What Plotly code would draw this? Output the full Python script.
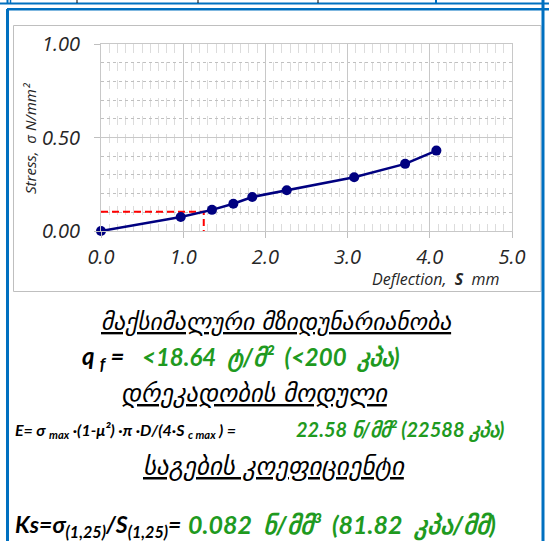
import plotly.graph_objects as go

# ---- data ----
deflection = [0.0, 0.97, 1.35, 1.61, 1.84, 2.26, 3.08, 3.70, 4.08]
stress = [0.0, 0.075, 0.113, 0.146, 0.182, 0.218, 0.287, 0.359, 0.430]
ref_s = 1.25
ref_sigma = 0.1025
x_ticks = [0, 1, 2, 3, 4, 5]
y_ticks = [0.0, 0.5, 1.0]

W, H = 549, 541
L, R, T, B = 101, 512, 44, 231

def px(x):
    return (x - L) / (R - L)

def py(y):
    return (B - y) / (B - T)

BLUE = "#0070C0"
GREEN = "#1f9a1f"
LATIN = "Lato, 'Open Sans', sans-serif"
GEO = "'DejaVu Sans', sans-serif"

fig = go.Figure()
fig.add_trace(go.Scatter(
    x=[0, ref_s, ref_s], y=[ref_sigma, ref_sigma, 0],
    mode="lines", line=dict(color="#ff0000", width=2, dash="7px,4px"),
    hoverinfo="skip", showlegend=False))
fig.add_trace(go.Scatter(
    x=deflection, y=stress, mode="lines+markers",
    line=dict(color="#000080", width=2.5),
    marker=dict(color="#000080", size=10),
    cliponaxis=False, showlegend=False))

axis_common = dict(
    showline=True, mirror=True, linecolor="#c8c8c8", linewidth=1,
    showgrid=True, gridcolor="#c8c8c8", gridwidth=1, zeroline=False,
    ticks="outside", ticklen=6, tickcolor="#bfbfbf",
    tickfont=dict(family="'Open Sans', sans-serif", size=20, color="#262626", style="italic"),
)
fig.update_xaxes(range=[0, 5], tickvals=x_ticks, tickformat=".1f",
                 ticklabelstandoff=2,
                 minor=dict(dtick=0.1, showgrid=True, gridcolor="#dcdcdc", griddash="dash", ticks=""),
                 **axis_common)
fig.update_yaxes(range=[0, 1], tickvals=y_ticks, tickformat=".2f",
                 ticklabelstandoff=10,
                 minor=dict(dtick=0.1, showgrid=True, gridcolor="#c0c0c0", griddash="dot", ticks=""),
                 **axis_common)

shapes = []
def seg(x0, y0, x1, y1, color, width):
    shapes.append(dict(type="line", xref="paper", yref="paper",
                       x0=px(x0), y0=py(y0), x1=px(x1), y1=py(y1),
                       line=dict(color=color, width=width)))

# chart area border
shapes.append(dict(type="rect", xref="paper", yref="paper",
                   x0=px(13.5), y0=py(25.5), x1=px(541), y1=py(291.5),
                   line=dict(color="#bfbfbf", width=1), layer="below"))
# blue cell borders
seg(0, 3.5, 549, 3.5, BLUE, 2)
seg(7, 9.2, 549, 9.2, BLUE, 2.5)
seg(7.5, 9, 7.5, 541, BLUE, 3)
seg(543, 0, 543, 541, BLUE, 3)
seg(7.5, 0, 7.5, 3.5, BLUE, 2)
seg(10.5, 0, 10.5, 3.5, BLUE, 1.5)
seg(436, 0, 436, 3.5, BLUE, 2)
for xb in [77, 198, 318]:
    seg(xb, 0, xb, 3, "#000000", 1)

ann = []
def text(x, y, s, size, color="#000000", family=LATIN, anchor="center"):
    ann.append(dict(xref="paper", yref="paper", x=px(x), y=py(y), text=s,
                    showarrow=False, xanchor=anchor, yanchor="middle",
                    font=dict(family=family, size=size, color=color)))

text(30, 139, "<i>Stress,  σ N/mm²</i>", 15, "#262626", "'Open Sans', sans-serif")
ann[-1]["textangle"] = -90
text(435, 279, "<i>Deflection,  <b>S</b>  mm</i>", 16, "#262626", "'Open Sans', sans-serif")

text(276, 322, "<i><u>მაქსიმალური მზიდუნარიანობა</u></i>", 23.5, family=GEO)
text(80, 357, "<b><i>q <sub>f</sub> =</i></b>", 24, anchor="left")
text(140, 357, "<b><i>&lt;18.64  ტ/მ²  (&lt;200  კპა)</i></b>", 24, GREEN, anchor="left")
text(254, 393, "<i><u>დრეკადობის მოდული</u></i>", 24.5, family=GEO)
text(13, 430, "<b><i>E= σ <sub>max</sub> ·(1-μ²) ·π ·D/(4·S <sub>c max</sub> ) =</i></b>", 16, anchor="left")
text(294, 430, "<b><i>22.58 ნ/მმ² (22588 კპა)</i></b>", 20, GREEN, anchor="left")
text(274, 467, "<i><u>საგების კოეფიციენტი</u></i>", 25, family=GEO)
text(13, 525, "<b><i>Ks=σ<sub>(1,25)</sub>/S<sub>(1,25)</sub>=</i></b>", 23, anchor="left")
text(186, 525, "<b><i>0.082  ნ/მმ³  (81.82  კპა/მმ)</i></b>", 25, GREEN, anchor="left")

fig.update_layout(
    width=W, height=H,
    margin=dict(l=L, r=W - R, t=T, b=H - B, pad=0),
    paper_bgcolor="#ffffff", plot_bgcolor="#ffffff",
    shapes=shapes, annotations=ann, showlegend=False,
)

fig.write_html("out.html", config={"displayModeBar": False},
               post_script="document.body.style.margin='0';document.body.style.overflow='hidden';")
